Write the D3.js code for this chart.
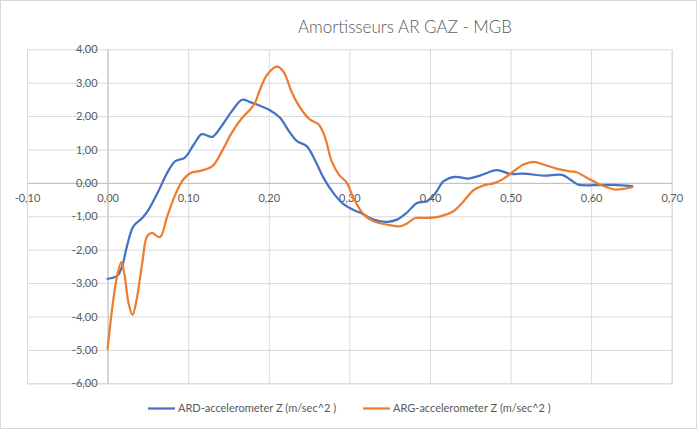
<!DOCTYPE html>
<html>
<head>
<meta charset="utf-8">
<script src="https://cdn.jsdelivr.net/npm/d3@7"></script>
<style>
	body { margin: 0; background: #fff; }
	svg { display: block; font-family: Lato, "Liberation Sans", sans-serif; }
</style>
</head>
<body>
<svg id="chart" width="697" height="429"></svg>
<script>
//data
var chartTitle = "Amortisseurs AR GAZ - MGB";
var seriesNames = ["ARD-accelerometer Z (m/sec^2 )", "ARG-accelerometer Z (m/sec^2 )"];

var ardX = [0, 0.012, 0.018, 0.024, 0.032, 0.043, 0.051, 0.063, 0.074, 0.084, 0.096, 0.107, 0.117, 0.13, 0.14, 0.154, 0.167, 0.177, 0.19, 0.202, 0.214, 0.225, 0.235, 0.247, 0.258, 0.268, 0.28, 0.292, 0.304, 0.316, 0.33, 0.347, 0.359, 0.371, 0.384, 0.396, 0.407, 0.417, 0.431, 0.448, 0.462, 0.483, 0.5, 0.516, 0.541, 0.564, 0.574, 0.584, 0.603, 0.628, 0.651];
var ardY = [-2.87, -2.78, -2.5, -1.9, -1.3, -1.05, -0.8, -0.25, 0.3, 0.65, 0.76, 1.15, 1.46, 1.38, 1.65, 2.14, 2.49, 2.42, 2.3, 2.17, 1.95, 1.55, 1.25, 1.1, 0.65, 0.15, -0.3, -0.62, -0.8, -0.92, -1.1, -1.17, -1.1, -0.9, -0.6, -0.55, -0.3, 0.05, 0.18, 0.13, 0.22, 0.38, 0.27, 0.28, 0.22, 0.24, 0.1, -0.05, -0.07, -0.06, -0.1];

var argX = [0, 0.0055, 0.0117, 0.017, 0.021, 0.026, 0.031, 0.036, 0.043, 0.049, 0.055, 0.065, 0.074, 0.084, 0.094, 0.103, 0.115, 0.13, 0.142, 0.154, 0.167, 0.177, 0.183, 0.189, 0.198, 0.21, 0.218, 0.229, 0.239, 0.251, 0.262, 0.27, 0.278, 0.287, 0.297, 0.305, 0.318, 0.33, 0.347, 0.363, 0.371, 0.382, 0.396, 0.413, 0.429, 0.44, 0.454, 0.466, 0.481, 0.491, 0.504, 0.516, 0.529, 0.541, 0.558, 0.575, 0.582, 0.595, 0.611, 0.63, 0.64, 0.651];
var argY = [-4.97, -3.8, -2.8, -2.37, -2.75, -3.6, -3.95, -3.5, -2.4, -1.6, -1.5, -1.62, -1.0, -0.35, 0.1, 0.3, 0.36, 0.5, 0.95, 1.5, 1.95, 2.2, 2.4, 2.79, 3.24, 3.48, 3.34, 2.69, 2.25, 1.9, 1.75, 1.35, 0.65, 0.25, 0.0, -0.45, -0.95, -1.15, -1.25, -1.3, -1.22, -1.05, -1.05, -1.0, -0.85, -0.6, -0.22, -0.08, 0.0, 0.12, 0.35, 0.55, 0.63, 0.55, 0.42, 0.34, 0.32, 0.15, -0.05, -0.2, -0.18, -0.13];

var xTicks = [-0.1, 0, 0.1, 0.2, 0.3, 0.4, 0.5, 0.6, 0.7];
var yTicks = [-6, -5, -4, -3, -2, -1, 0, 1, 2, 3, 4];

var colors = ["#4472C4", "#ED7D31"];

//layout
var svgWidth = 697, svgHeight = 429;
var plotLeft = 27, plotRight = 671.7, plotTop = 49.3, plotBottom = 383.3;

var x = d3.scaleLinear().domain([-0.1, 0.7]).range([plotLeft, plotRight]);
var y = d3.scaleLinear().domain([-6, 4]).range([plotBottom, plotTop]);

var fmt = function(d){ return d3.format(".2f")(d).replace(".", ",").replace("−", "-"); };

var svg = d3.select("#chart");

//outer border
svg.append("rect")
	.attr("x", 0.5).attr("y", 0.5)
	.attr("width", svgWidth - 1).attr("height", svgHeight - 1)
	.attr("fill", "#fff")
	.attr("stroke", "#d9d9d9");

//title
svg.append("text")
	.attr("x", 405).attr("y", 33)
	.attr("text-anchor", "middle")
	.attr("font-size", "17px")
	.attr("font-weight", 300)
	.attr("fill", "#595959")
	.text(chartTitle);

//gridlines
svg.append("g")
	.attr("transform", `translate(0,${plotBottom})`)
	.call(d3.axisBottom(x).tickValues(xTicks).tickSize(-(plotBottom - plotTop)).tickFormat(""))
	.call(function(g){
		g.select(".domain").attr("stroke", "#d9d9d9");
		g.selectAll(".tick line").attr("stroke", "#d9d9d9");
	});

svg.append("g")
	.attr("transform", `translate(${plotLeft},0)`)
	.call(d3.axisLeft(y).tickValues(yTicks).tickSize(-(plotRight - plotLeft)).tickFormat(""))
	.call(function(g){
		g.select(".domain").remove();
		g.selectAll(".tick line").attr("stroke", "#d9d9d9");
	});

//axes crossing at zero
var xAxis = svg.append("g")
	.attr("transform", `translate(0,${y(0)})`)
	.call(d3.axisBottom(x).tickValues(xTicks).tickSize(0).tickPadding(11).tickFormat(fmt));

var yAxis = svg.append("g")
	.attr("transform", `translate(${x(0)},0)`)
	.call(d3.axisLeft(y).tickValues(yTicks).tickSize(0).tickPadding(10).tickFormat(fmt));

[xAxis, yAxis].forEach(function(g){
	g.select(".domain").attr("stroke", "#bfbfbf");
	g.selectAll(".tick text")
		.attr("fill", "#595959")
		.attr("font-size", "11px")
		.attr("font-family", "Lato, 'Liberation Sans', sans-serif");
});

//lines
var line = d3.line()
	.x(function(d){ return x(d[0]); })
	.y(function(d){ return y(d[1]); })
	.curve(d3.curveCatmullRom.alpha(0.5));

var series = [d3.zip(ardX, ardY), d3.zip(argX, argY)];

svg.selectAll(".series")
	.data(series)
	.enter()
	.append("path")
	.attr("class", "series")
	.attr("d", line)
	.attr("fill", "none")
	.attr("stroke", function(d, i){ return colors[i]; })
	.attr("stroke-width", 2.25)
	.attr("stroke-linejoin", "round")
	.attr("stroke-linecap", "round");

//legend
var legendX = [148, 363], legendY = 408.5;

var legend = svg.selectAll(".legend")
	.data(seriesNames)
	.enter()
	.append("g")
	.attr("class", "legend")
	.attr("transform", function(d, i){ return `translate(${legendX[i]},${legendY})`; });

legend.append("line")
	.attr("x1", 0).attr("x2", 27)
	.attr("stroke", function(d, i){ return colors[i]; })
	.attr("stroke-width", 2.25);

legend.append("text")
	.attr("x", 30).attr("dy", "0.35em")
	.attr("font-size", "11px")
	.attr("fill", "#595959")
	.text(function(d){ return d; });
</script>
</body>
</html>
